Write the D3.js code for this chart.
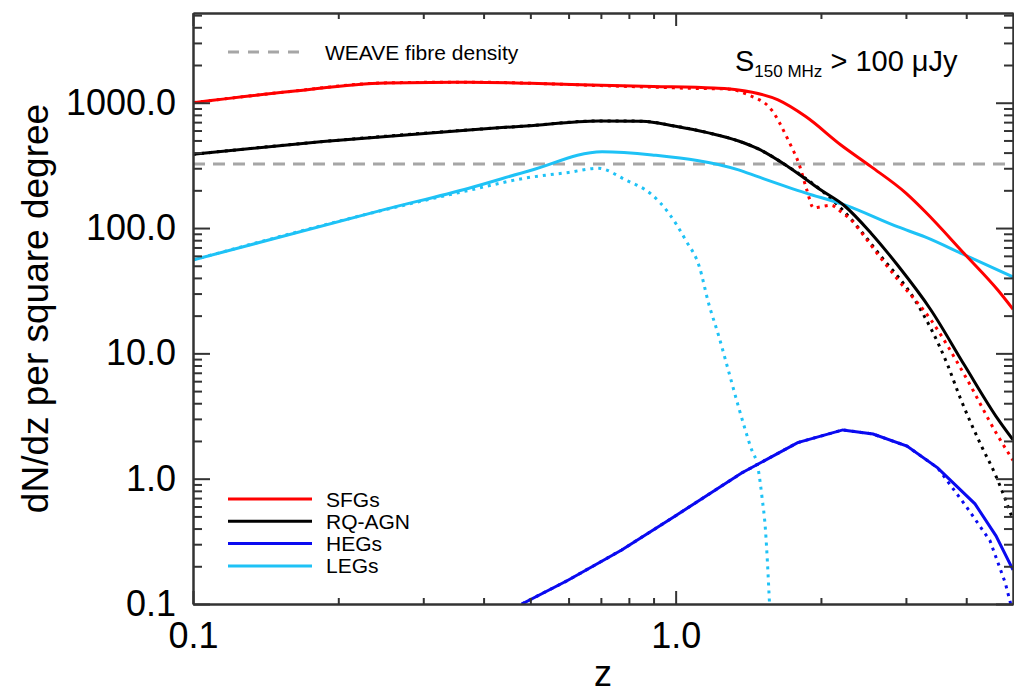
<!DOCTYPE html>
<html>
<head>
<meta charset="utf-8">
<script src="https://cdn.jsdelivr.net/npm/d3@7"></script>
<style>
  body { margin: 0; background: #fff; }
  svg { font-family: "Liberation Sans", Arial, Helvetica, sans-serif; }
</style>
</head>
<body>
<svg id="chart" width="1014" height="693"></svg>
<script>
// redshift grids and dN/dz values
const zSFG = [0.1, 0.159, 0.25, 0.373, 0.5, 0.7, 0.9, 1.2, 1.35, 1.63, 1.86, 2.2, 2.54, 3.0, 3.29, 3.97, 4.65, 5.0];
const sfg = [1000, 1230, 1440, 1460, 1430, 1380, 1350, 1310, 1265, 1052, 775, 460, 309, 190, 135, 62, 32, 22.5];

const zSFGd = [0.1, 0.159, 0.25, 0.373, 0.5, 0.7, 0.9, 1.1, 1.27, 1.415, 1.58, 1.71, 1.81, 1.87, 1.93, 2.0, 2.1, 2.2, 2.31, 2.47, 2.63, 2.89, 3.38, 3.97, 4.65, 5.0];
const sfgDot = [1000, 1230, 1440, 1460, 1430, 1370, 1330, 1300, 1290, 1154, 876, 505, 307, 201, 145, 148, 152, 135, 116, 84, 61, 38.5, 18.5, 6.7, 2.2, 1.4];

const zAGN = [0.1, 0.186, 0.373, 0.49, 0.693, 0.85, 1.0, 1.17, 1.35, 1.48, 1.71, 2.0, 2.24, 2.54, 2.89, 3.38, 3.97, 4.65, 5.0];
const agn = [388, 490, 607, 653, 716, 712, 650, 575, 495, 430, 309, 201, 150, 91, 50, 22.2, 8.0, 3.0, 2.04];

const zAGNd = [0.1, 0.186, 0.373, 0.49, 0.693, 0.85, 1.0, 1.17, 1.35, 1.48, 1.71, 2.0, 2.22, 2.67, 3.13, 3.66, 3.88, 4.29, 4.58, 5.0];
const agnDot = [388, 490, 607, 653, 716, 712, 650, 575, 495, 430, 309, 201, 139, 58.8, 26.7, 8.08, 4.49, 1.86, 1.11, 0.47];

const zHEG = [0.48, 0.597, 0.773, 0.987, 1.37, 1.79, 2.22, 2.565, 3.015, 3.49, 4.17, 4.61, 5.0];
const heg = [0.1, 0.154, 0.27, 0.49, 1.11, 1.94, 2.45, 2.27, 1.82, 1.22, 0.63, 0.35, 0.187];

const zHEGd = [0.48, 0.597, 0.773, 0.987, 1.37, 1.79, 2.22, 2.565, 3.015, 3.49, 4.0, 4.48, 4.82, 5.0];
const hegDot = [0.1, 0.154, 0.27, 0.49, 1.11, 1.94, 2.45, 2.27, 1.82, 1.22, 0.6, 0.32, 0.147, 0.085];

const zLEG = [0.1, 0.25, 0.373, 0.5, 0.704, 0.894, 1.35, 1.48, 1.856, 2.24, 2.89, 3.285, 3.97, 5.0];
const leg = [55.6, 141, 208, 288, 407, 383, 291, 257, 191, 153, 102, 85, 61, 40.7];

const zLEGd = [0.1, 0.25, 0.373, 0.49, 0.6, 0.69, 0.788, 0.892, 0.967, 1.049, 1.12, 1.17, 1.23, 1.29, 1.35, 1.43, 1.484, 1.51, 1.535, 1.55, 1.565];
const legDot = [55.6, 140, 200, 251, 278, 300, 242, 185, 132, 80, 49, 25.2, 13.5, 7.0, 3.73, 1.79, 1.17, 0.71, 0.39, 0.21, 0.1];

const weaveDensity = 325;

const legendNames = ['SFGs', 'RQ-AGN', 'HEGs', 'LEGs'];
const xMajor = [0.1, 1.0];
const yMajor = [0.1, 1, 10, 100, 1000];

const colors = { SFGs: '#ff0000', 'RQ-AGN': '#000000', HEGs: '#0a0af0', LEGs: '#1ec2f6' };

const svg = d3.select('#chart');
const pLeft = 193, pRight = 1013, pTop = 13, pBottom = 604;

const x = d3.scaleLog().domain([0.1, 5]).range([pLeft, pRight]);
const y = d3.scaleLog().domain([0.1, 5200]).range([pBottom, pTop]);

svg.append('defs').append('clipPath').attr('id', 'clip')
  .append('rect').attr('x', pLeft).attr('y', pTop)
  .attr('width', pRight - pLeft).attr('height', pBottom - pTop);

// minor ticks: 2..9 in each decade
const minorX = [], minorY = [];
[0.1, 1].forEach(d => { for (let k = 2; k <= 9; k++) if (k * d < 5) minorX.push(k * d); });
[0.1, 1, 10, 100, 1000].forEach(d => { for (let k = 2; k <= 9; k++) if (k * d < 5200) minorY.push(k * d); });

const plot = svg.append('g').attr('clip-path', 'url(#clip)');

const line = d3.line()
  .x(d => x(d[0]))
  .y(d => y(d[1]))
  .curve(d3.curveMonotoneX);

const lineLin = d3.line()
  .x(d => x(d[0]))
  .y(d => y(d[1]));

// WEAVE fibre density
plot.append('line')
  .attr('x1', pLeft).attr('x2', pRight)
  .attr('y1', y(weaveDensity)).attr('y2', y(weaveDensity))
  .attr('stroke', '#a6a6a6').attr('stroke-width', 3)
  .attr('stroke-dasharray', '12,8');

const series = [
  { z: zLEGd, v: legDot, c: colors.LEGs, dot: true, f: line },
  { z: zHEGd, v: hegDot, c: colors.HEGs, dot: true, f: lineLin },
  { z: zAGNd, v: agnDot, c: colors['RQ-AGN'], dot: true, f: line },
  { z: zSFGd, v: sfgDot, c: colors.SFGs, dot: true, f: line },
  { z: zLEG, v: leg, c: colors.LEGs, dot: false, f: line },
  { z: zHEG, v: heg, c: colors.HEGs, dot: false, f: lineLin },
  { z: zAGN, v: agn, c: colors['RQ-AGN'], dot: false, f: line },
  { z: zSFG, v: sfg, c: colors.SFGs, dot: false, f: line }
];

series.forEach(s => {
  plot.append('path')
    .attr('d', s.f(s.z.map((z, i) => [z, s.v[i]])))
    .attr('fill', 'none')
    .attr('stroke', s.c)
    .attr('stroke-width', 3)
    .attr('stroke-dasharray', s.dot ? '3,5' : null);
});

// axes (ticks pointing inwards on all four sides)
const fmt = d3.format('.1f');

function styleAxis(g) {
  g.select('.domain').attr('stroke', '#333').attr('stroke-width', 2);
  g.selectAll('.tick line').attr('stroke', '#333').attr('stroke-width', 2);
  g.selectAll('.tick text').attr('fill', '#000').attr('font-size', 36);
}

svg.append('g').attr('transform', `translate(0,${pBottom})`)
  .call(d3.axisBottom(x).tickValues(minorX).tickSize(-6).tickFormat('').tickSizeOuter(0))
  .call(styleAxis);
svg.append('g').attr('transform', `translate(0,${pBottom})`)
  .call(d3.axisBottom(x).tickValues(xMajor).tickSize(-13).tickPadding(18).tickFormat(fmt).tickSizeOuter(0))
  .call(styleAxis);

svg.append('g').attr('transform', `translate(0,${pTop})`)
  .call(d3.axisTop(x).tickValues(minorX).tickSize(-6).tickFormat('').tickSizeOuter(0))
  .call(styleAxis);
svg.append('g').attr('transform', `translate(0,${pTop})`)
  .call(d3.axisTop(x).tickValues(xMajor).tickSize(-13).tickFormat('').tickSizeOuter(0))
  .call(styleAxis);

svg.append('g').attr('transform', `translate(${pLeft},0)`)
  .call(d3.axisLeft(y).tickValues(minorY).tickSize(-9).tickFormat('').tickSizeOuter(0))
  .call(styleAxis);
svg.append('g').attr('transform', `translate(${pLeft},0)`)
  .call(d3.axisLeft(y).tickValues(yMajor).tickSize(-17).tickPadding(17).tickFormat(fmt).tickSizeOuter(0))
  .call(styleAxis);

svg.append('g').attr('transform', `translate(${pRight},0)`)
  .call(d3.axisRight(y).tickValues(minorY).tickSize(-9).tickFormat('').tickSizeOuter(0))
  .call(styleAxis);
svg.append('g').attr('transform', `translate(${pRight},0)`)
  .call(d3.axisRight(y).tickValues(yMajor).tickSize(-17).tickFormat('').tickSizeOuter(0))
  .call(styleAxis);

// axis titles
svg.append('text')
  .attr('x', (pLeft + pRight) / 2).attr('y', 686)
  .attr('text-anchor', 'middle').attr('font-size', 36)
  .text('z');

svg.append('text')
  .attr('transform', `translate(48,${(pTop + pBottom) / 2}) rotate(-90)`)
  .attr('text-anchor', 'middle').attr('font-size', 37)
  .text('dN/dz per square degree');

// WEAVE legend
svg.append('line')
  .attr('x1', 228).attr('x2', 300).attr('y1', 52).attr('y2', 52)
  .attr('stroke', '#a6a6a6').attr('stroke-width', 3)
  .attr('stroke-dasharray', '11,9');
svg.append('text')
  .attr('x', 325).attr('y', 59.5).attr('font-size', 21)
  .text('WEAVE fibre density');

// flux limit label
const lab = svg.append('text').attr('x', 735).attr('y', 71).attr('font-size', 29);
lab.append('tspan').text('S');
lab.append('tspan').attr('font-size', 17).attr('dy', 6).text('150 MHz');
lab.append('tspan').attr('dy', -6).text(' > 100 \u03bcJy');

// series legend
const lg = svg.append('g');
legendNames.forEach((name, i) => {
  const ly = 499 + i * 22.3;
  lg.append('line')
    .attr('x1', 228).attr('x2', 312).attr('y1', ly).attr('y2', ly)
    .attr('stroke', colors[name]).attr('stroke-width', 3);
  lg.append('text')
    .attr('x', 326).attr('y', ly + 7.5).attr('font-size', 21)
    .text(name);
});
</script>
</body>
</html>
